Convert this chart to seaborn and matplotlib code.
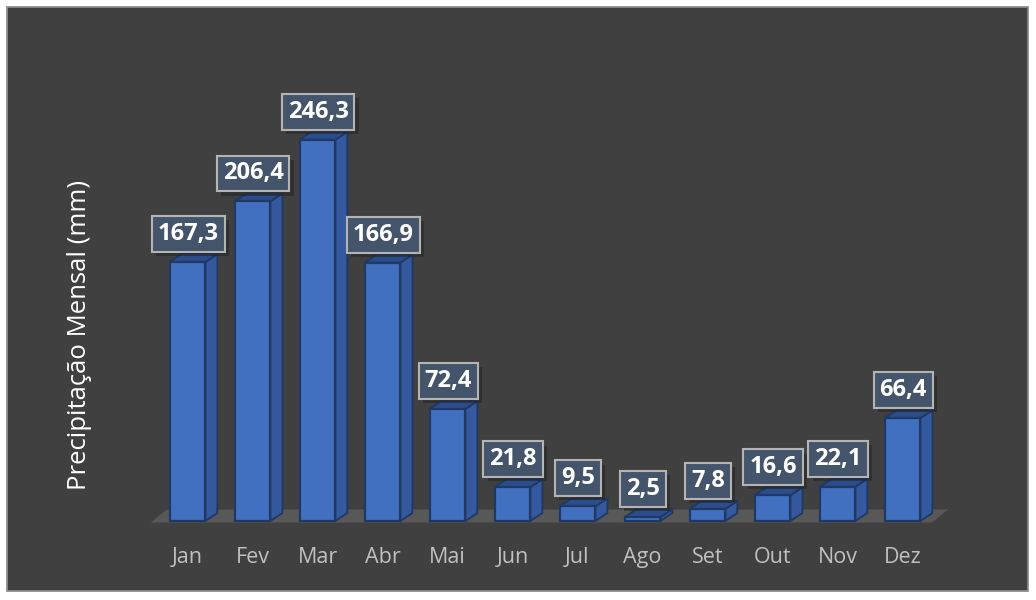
import matplotlib
matplotlib.use("Agg")
import matplotlib.pyplot as plt
import matplotlib.patheffects as pe
import seaborn as sns
import pandas as pd
from matplotlib.patches import Polygon, Rectangle

# ---- data ----
months = ["Jan", "Fev", "Mar", "Abr", "Mai", "Jun", "Jul", "Ago", "Set", "Out", "Nov", "Dez"]
rain = [167.3, 206.4, 246.3, 166.9, 72.4, 21.8, 9.5, 2.5, 7.8, 16.6, 22.1, 66.4]
value_labels = [f"{v:.1f}".replace(".", ",") for v in rain]
ylabel = "Precipitação Mensal (mm)"

df = pd.DataFrame({"mes": months, "chuva": rain})

sns.set_theme(style="white")
plt.rcParams['font.family'] = ['Open Sans', 'DejaVu Sans']

W, H = 1036, 600
fig = plt.figure(figsize=(W / 100, H / 100), dpi=100, facecolor="white")
fig.patches.append(Rectangle((7 / W, 9 / H), 1021 / W, 584 / H, transform=fig.transFigure,
                             facecolor="#404040", edgecolor="#8C8C8C", lw=1.3, zorder=-5))

# axes geometry in pixels
px_left, px_right, px_top, px_bot = 140, 960, 80, 530
x0_px, cat_px = 187.5, 65.0      # centre of first category and spacing
base_px, unit_px = 521, 1.548     # baseline pixel and pixels per mm
ax = fig.add_axes([px_left / W, 1 - px_bot / H, (px_right - px_left) / W, (px_bot - px_top) / H])
ax.set_facecolor("none")
ax.set_zorder(1)

front, side, top, edge = "#4270C0", "#35599E", "#2C4D8C", "#1F3864"
sns.barplot(data=df, x="mes", y="chuva", ax=ax, color=front, saturation=1,
            width=0.55, edgecolor=edge, linewidth=1.6, zorder=3)
ax.set_xlim((px_left - x0_px) / cat_px, (px_right - x0_px) / cat_px)
ax.set_ylim(-(px_bot - base_px) / unit_px, (base_px - px_top) / unit_px)

# 3-D depth offsets (data units)
dx, dy = 12 / cat_px, 8 / unit_px
fdx, fdy = 16 / cat_px, 13 / unit_px

bars = ax.patches[:len(rain)]
xl = bars[0].get_x() - 0.29
xr = bars[-1].get_x() + bars[-1].get_width() + 0.18
fy = -1.5 / unit_px
ax.add_patch(Polygon([(xl, fy), (xr, fy), (xr + fdx, fy + fdy), (xl + fdx, fy + fdy)],
                     closed=True, facecolor="#585858", edgecolor="none", zorder=1))

for b in bars:
    x, w, h = b.get_x(), b.get_width(), b.get_height()
    ax.add_patch(Polygon([(x + w, 0), (x + w + dx, dy), (x + w + dx, h + dy), (x + w, h)],
                         closed=True, facecolor=side, edgecolor=edge, lw=1.3, zorder=2.5))
    ax.add_patch(Polygon([(x, h), (x + w, h), (x + w + dx, h + dy), (x + dx, h + dy)],
                         closed=True, facecolor=top, edgecolor=edge, lw=1.3, zorder=2.5))

for b, lab in zip(bars, value_labels):
    cx = b.get_x() + b.get_width() / 2 + 0.01
    yv = b.get_height() + 28 / unit_px
    t = ax.text(cx, yv, lab, ha="center", va="center", fontsize=17, fontweight="bold", color="white",
                bbox=dict(boxstyle="square,pad=0.25", facecolor="#44546A", edgecolor="#B4B4B4", lw=1.5),
                zorder=5)
    t.get_bbox_patch().set_path_effects([
        pe.SimplePatchShadow(offset=(3, -3), shadow_rgbFace="#262626", alpha=0.6),
        pe.Normal()])

ax.set_xlabel("")
ax.set_ylabel("")
ax.set_yticks([])
ax.tick_params(axis="x", length=0, pad=12, labelsize=15.5, labelcolor="#C0C0C0")
for s in ax.spines.values():
    s.set_visible(False)

fig.text(80 / W, 1 - 335 / H, ylabel, rotation=90, ha="center", va="center",
         fontsize=18.5, color="white")

fig.savefig("out.png", dpi=100, facecolor=fig.get_facecolor())
